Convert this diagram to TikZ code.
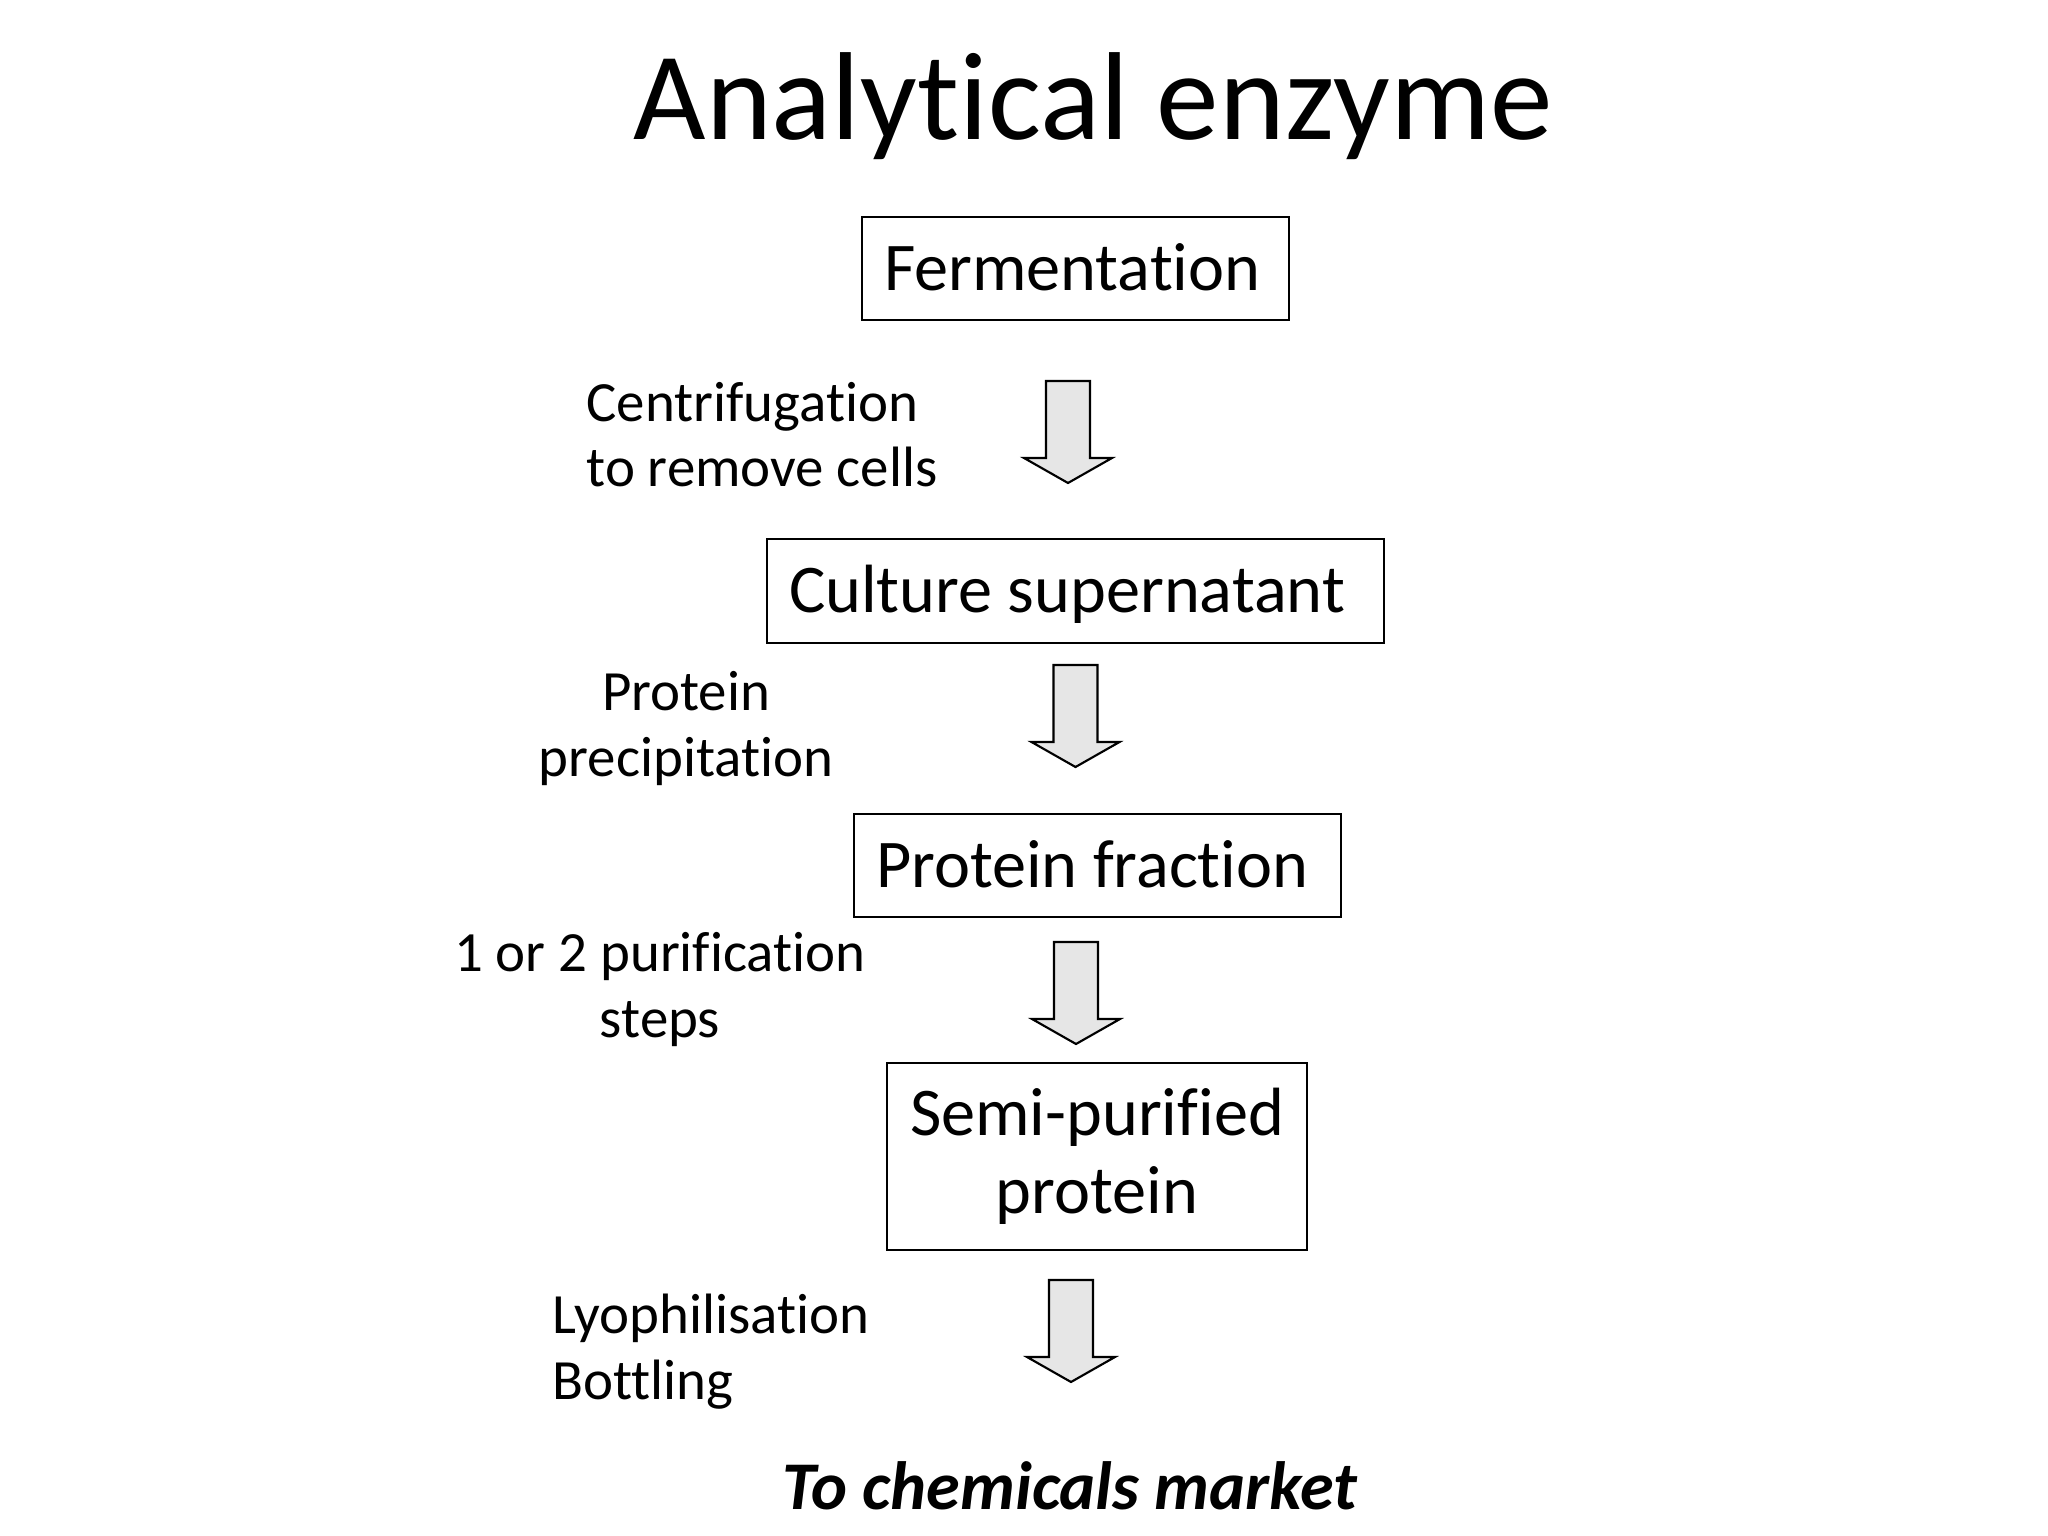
\documentclass[tikz,border=0pt]{standalone}
\usepackage{fontspec}
\setmainfont[Ligatures={NoCommon}]{Carlito}
\definecolor{arrowgray}{HTML}{E6E6E6}
\begin{document}
\begin{tikzpicture}[x=0.35156pt,y=-0.35156pt,
  stepbox/.style={draw=black, line width=0.75pt, inner ysep=0pt,
    font=\fontsize{24}{27.4}\selectfont},
  leftbox/.style={stepbox, align=flush left, inner xsep=22*0.35156pt,
    text height=20pt, text depth=4.8pt},
  lbl/.style={font=\fontsize{20}{23.2}\selectfont, inner sep=0pt},
  blockarrow/.style={draw=black, line width=0.75pt, fill=arrowgray, line join=miter}
]
\fill[white] (0,0) rectangle (2048,1536);
\useasboundingbox (0,0) rectangle (2048,1536);

% title
\node[font=\fontsize{44}{52}\selectfont, anchor=base, inner sep=0pt] (title) at (1093,140) {Analytical enzyme};

% boxes
\node[leftbox, text width=(427-44)*0.35156pt, minimum height=103*0.35156pt] (ferm) at (1075.5,268.5) {Fermentation};
\node[leftbox, text width=(617-44)*0.35156pt, minimum height=104*0.35156pt] (cult) at (1075.5,591) {Culture supernatant};
\node[leftbox, text width=(487-44)*0.35156pt, minimum height=103*0.35156pt] (frac) at (1097.5,865.5) {Protein fraction};
\node[stepbox, align=center, minimum width=420*0.35156pt, minimum height=187*0.35156pt] (semi) at (1097,1156.5) {Semi-purified\\protein};

% labels (anchor = baseline of last line)
\node[lbl, align=left, anchor=base west] (l1) at (586,487) {Centrifugation\\to remove cells};
\node[lbl, align=center, anchor=base] (l2) at (686,776) {Protein\\precipitation};
\node[lbl, align=center, anchor=base] (l3) at (660,1037) {1 or 2 purification\\steps};
\node[lbl, align=left, anchor=base west] (l4) at (552,1399) {Lyophilisation\\Bottling};

% final
\node[font=\fontsize{24}{28}\selectfont\bfseries\itshape, anchor=base, inner sep=0pt] (market) at (1070,1509) {To chemicals market};

% block arrows
\newcommand\blockarr[2]{%
  \draw[blockarrow] (#1-22,#2) -- (#1+22,#2) -- (#1+22,#2+77) -- (#1+44,#2+77)
    -- (#1,#2+102) -- (#1-44,#2+77) -- (#1-22,#2+77) -- cycle;}
\blockarr{1068}{381}
\blockarr{1075.5}{665}
\blockarr{1076}{942}
\blockarr{1071}{1280}
\end{tikzpicture}
\end{document}
